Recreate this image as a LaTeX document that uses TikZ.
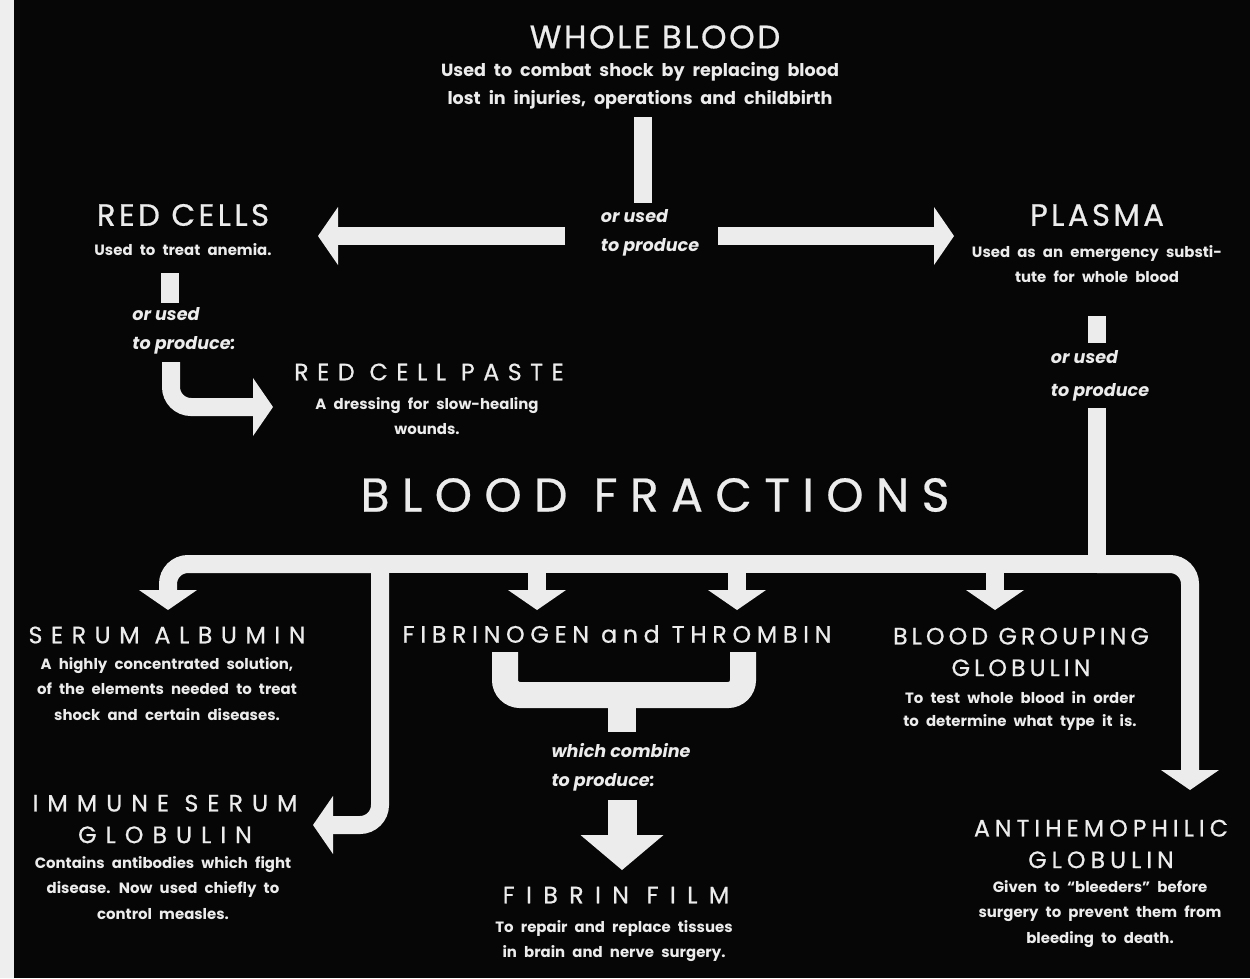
\documentclass[tikz,border=0pt]{standalone}
\usepackage{fontspec}
\setmainfont{Poppins}
\usepackage{xcolor}
\usetikzlibrary{arrows.meta}
\definecolor{ink}{HTML}{060606}
\definecolor{paper}{HTML}{EEEEEE}
\definecolor{chalk}{HTML}{ECECEC}
\newcommand{\wordgap}[1]{\spaceskip=#1\relax}
\tikzset{every node/.style={text=chalk,inner sep=0pt},
bigttl/.style={font=\fontsize{18.5}{21}\selectfont\addfontfeatures{LetterSpace=8,FakeBold=0.6}},
ttl/.style={align=center,font=\fontsize{13.5}{18}\selectfont\addfontfeatures{LetterSpace=#1,FakeBold=0.6}},ttl/.default=32,
desc/.style={align=center,font=\bfseries\fontsize{8.5}{14.5}\selectfont\wordgap{0.48em}},
note/.style={align=left,font=\bfseries\itshape\fontsize{10}{16.5}\selectfont},
stub/.style={draw=chalk,line width=0.36cm},
flow/.style={stub,rounded corners=0.4cm,-{Triangle[length=0.4cm,width=1.16cm,line width=0pt]}}}

\begin{document}
\begin{tikzpicture}[x=0.02cm,y=-0.02cm]
\useasboundingbox (0,0) rectangle (1250,978);
\fill[ink] (0,0) rectangle (1250,978);
\fill[paper] (0,0) rectangle (14,978);
% top: whole blood and its two products
\node[bigttl] (wbT) at (655,37) {WHOLE BLOOD};
\node[desc,font=\bfseries\fontsize{10}{16}\selectfont\wordgap{0.45em}] (wbD) at (640,86) {Used to combat shock by replacing blood\\lost in injuries, operations and childbirth};
\node[note] (orA) at (650,233) {or used\\to produce};
\node[bigttl,font=\fontsize{17.5}{21}\selectfont\addfontfeatures{LetterSpace=11,FakeBold=0.6}] (rcT) at (183,215) {RED CELLS};
\node[desc] (rcD) at (183,250) {Used to treat anemia.};
\node[note] (orB) at (184,331) {or used\\to produce:};
\node[ttl=36] (rcpT) at (429,372) {RED CELL PASTE};
\node[desc] (rcpD) at (427,416) {A dressing for slow-healing\\wounds.};
\node[bigttl,font=\fontsize{17.5}{21}\selectfont\addfontfeatures{LetterSpace=11,FakeBold=0.6}] (plT) at (1097,215) {PLASMA};
\node[desc] (plD) at (1097,264) {Used as an emergency substi-\\tute for whole blood};
\node[note,font=\bfseries\itshape\fontsize{10}{18.5}\selectfont] (orC) at (1100,376) {or used\\to produce};
\node[font=\fontsize{27}{30}\selectfont\addfontfeatures{LetterSpace=26,FakeBold=0.5}\wordgap{0.55em}] (bfT) at (655,495) {BLOOD FRACTIONS};
% fractions
\node[ttl=36] (saT) at (167,635) {SERUM ALBUMIN};
\node[desc] (saD) at (167,689) {A highly concentrated solution,\\of the elements needed to treat\\shock and certain diseases.};
\node[ttl=24] (fbT) at (617,634) {FIBRINOGEN and THROMBIN};
\node[note] (wc) at (621,767) {which combine\\to produce:};
\node[ttl=48] (ffT) at (616,895) {FIBRIN FILM};
\node[desc] (ffD) at (614,941) {To repair and replace tissues\\in brain and nerve surgery.};
\node[ttl=38] (isT) at (165,819) {IMMUNE SERUM\\GLOBULIN};
\node[desc] (isD) at (163,888) {Contains antibodies which fight\\disease. Now used chiefly to\\control measles.};
\node[ttl=17] (bgT) at (1021,652) {BLOOD GROUPING\\GLOBULIN};
\node[desc,font=\bfseries\fontsize{8.5}{13}\selectfont\wordgap{0.48em}] (bgD) at (1020,711) {To test whole blood in order\\to determine what type it is.};
\node[ttl=21] (ahT) at (1101,844) {ANTIHEMOPHILIC\\GLOBULIN};
\node[desc] (ahD) at (1100,914) {Given to ``bleeders'' before\\surgery to prevent them from\\bleeding to death.};
% connector points
\coordinate (wbA) at (643,117); \coordinate (wbB) at (643,203);
\coordinate (lA) at (565,236); \coordinate (lTip) at (318,236);
\coordinate (rA) at (718,236); \coordinate (rTip) at (954,236);
\coordinate (rcA) at (170,273); \coordinate (rcB) at (170,303);
\coordinate (rcC) at (171,362); \coordinate (rcTip) at (273,407);
\coordinate (plA) at (1097,316); \coordinate (plB) at (1097,343);
\coordinate (plC) at (1097,408); \coordinate (jPL) at (1097,564);
\coordinate (jIS) at (380,564);
\coordinate (saTip) at (168,610); \coordinate (isTip) at (313,825);
\coordinate (fbTipL) at (537,610); \coordinate (fbTipR) at (737,610);
\coordinate (bgTip) at (995,610); \coordinate (ahTip) at (1190,790);
\coordinate (brL) at (505,652); \coordinate (brM) at (622,695); \coordinate (brR) at (743,652);
\coordinate (brS) at (622,732);
\coordinate (ffA) at (622,800); \coordinate (ffTip) at (622,870);
% connectors
\draw[stub] (wbA) -- (wbB);
\draw[flow] (lA) -- (lTip);
\draw[flow] (rA) -- (rTip);
\draw[stub] (rcA) -- (rcB);
\draw[flow] (rcC) |- (rcTip);
\draw[stub] (plA) -- (plB);
\draw[stub] (plC) -- (jPL);
\draw[stub] (jIS) -- (jPL);
\draw[flow] (jIS) -| (saTip);
\draw[flow] (jIS) |- (isTip);
\draw[flow] (jPL) -| (ahTip);
\foreach \t in {fbTipL,fbTipR,bgTip}
  \draw[flow] (\t |- jPL) -- (\t);
\draw[stub,line width=0.52cm,rounded corners=0.3cm] (brL) |- (brM) -| (brR);
\draw[stub,line width=0.56cm] (brM) -- (brS);
\draw[flow,line width=0.58cm,-{Triangle[length=0.7cm,width=1.66cm,line width=0pt]}] (ffA) -- (ffTip);
\end{tikzpicture}
\end{document}
